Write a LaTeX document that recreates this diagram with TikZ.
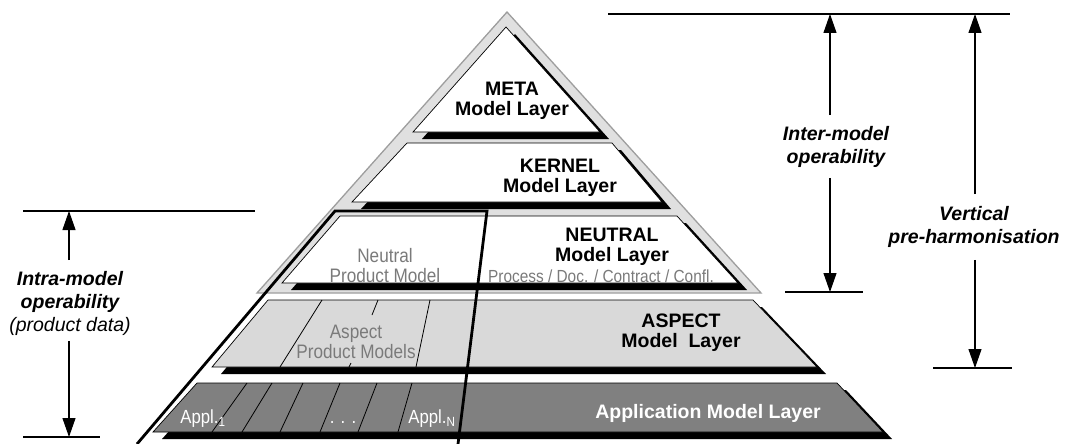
\documentclass[tikz,border=0pt]{standalone}
\usepackage{fontspec}
\setmainfont{Liberation Sans}
\newfontfamily\narrowsf[FakeStretch=0.88]{Liberation Sans}
\usetikzlibrary{arrows.meta}

\begin{document}
\begin{tikzpicture}[
        x = 1pt, y = -1pt,
        > = {Triangle[width=13pt, length=19pt]},
        line width = 0.8pt,
        pyramid/.style = {fill = black!12, draw = black!38, line width = 1.3pt},
        layer/.style = {draw = black, line width = 0.7pt},
        layershadow/.style = {fill = black, shift = {(9,7)}},
        divider/.style = {draw = black, line width = 0.8pt},
        bracket/.style = {draw = black, line width = 2.8pt, line join = miter},
        gauge/.style = {draw = black, line width = 1.1pt},
        title/.style = {align = center, inner sep = 0pt, font = \bfseries\fontsize{19.5}{20}\selectfont},
        sublabel/.style = {align = center, inner sep = 0pt, text = black!52, font = \narrowsf\fontsize{19.5}{20}\selectfont},
        applabel/.style = {anchor = base west, inner sep = 0pt, text = white, font = \narrowsf\fontsize{19}{20}\selectfont},
        gaugetext/.style = {align = center, inner xsep = 0pt, inner ysep = 10pt, font = \bfseries\itshape\fontsize{19.5}{23}\selectfont}
    ]

        \useasboundingbox (0,0) rectangle (1065,444);

        % pyramid body
        \draw[pyramid] (507,12) -- (761,293) -- (257,293) -- cycle;

        \fill[layershadow] (506,27) -- (600,132) -- (413,132) -- cycle;
        \draw[layer, fill=white] (506,27) -- (600,132) -- (413,132) -- cycle;

        \fill[layershadow] (407,143) -- (612,143) -- (662,202) -- (352,202) -- cycle;
        \draw[layer, fill=white] (407,143) -- (612,143) -- (662,202) -- (352,202) -- cycle;

        \fill[layershadow] (340,216) -- (677,216) -- (738,283) -- (282,283) -- cycle;
        \draw[layer, fill=white] (340,216) -- (677,216) -- (738,283) -- (282,283) -- cycle;

        \fill[layershadow] (268,300) -- (753,300) -- (817,367) -- (212,367) -- cycle;
        \draw[layer, fill=black!15] (268,300) -- (753,300) -- (817,367) -- (212,367) -- cycle;

        \fill[layershadow] (197,383) -- (837,383) -- (883,432) -- (153,432) -- cycle;
        \draw[layer, fill=black!50] (197,383) -- (837,383) -- (883,432) -- (153,432) -- cycle;

        % aspect and application columns
        \draw[divider] (322,300) -- (280,367);
        \draw[divider] (378,300) -- (372,315) (351,363) -- (349,367);
        \draw[divider] (430,300) -- (416,367);

        \draw[divider] (247,383) -- (212,432);
        \draw[divider] (272,383) -- (242,432);
        \draw[divider] (303,383) -- (280,432);
        \draw[divider] (340,383) -- (320,432);
        \draw[divider] (377,383) -- (358,432);
        \draw[divider] (412,383) -- (398,432);

        \node[title] (meta) at (512,101) {META\\Model Layer};
        \node[title] (kernel) at (560,177.5) {KERNEL\\Model Layer};
        \node[title] (neutral) at (612,247) {NEUTRAL\\Model Layer};
        \node[title] (aspect) at (681,333) {ASPECT\\Model~ Layer};
        \node[title, anchor=base, text=white] (application) at (708,418) {Application Model Layer};

        \node[sublabel] (neutralprod) at (385,266) {Neutral\\Product Model};
        \node[sublabel, anchor=base, font=\narrowsf\fontsize{17.5}{20}\selectfont] (neutralrest) at (601,282) {Process / Doc. / Contract / Confl.};
        \node[sublabel] (aspectprod) at (356,342) {Aspect\\Product Models};

        \node[applabel] (applfirst) at (180,423) {Appl.\textsubscript{1}};
        \node[applabel, anchor=base] (appldots) at (343,423) {. . .};
        \node[applabel] (appllast) at (408,423) {Appl.\textsubscript{N}};

        % product data bracket
        \coordinate (brackettl) at (335,211);
        \coordinate (brackettr) at (487,211);
        \coordinate (bracketbl) at (137,444);
        \coordinate (bracketbr) at (458,444);
        \draw[bracket] (bracketbl) -- (brackettl) -- (brackettr) -- (bracketbr);

        % gauges
        \coordinate (gaugetopl) at (608,14);
        \coordinate (gaugetopr) at (1010,14);
        \coordinate (intertop) at (830,14);
        \coordinate (interbot) at (830,292);
        \coordinate (interbotl) at (785,292);
        \coordinate (interbotr) at (863,292);
        \coordinate (verttop) at (975,14);
        \coordinate (vertbot) at (975,368);
        \coordinate (vertbotl) at (933,368);
        \coordinate (vertbotr) at (1012,368);
        \coordinate (intratop) at (69,211);
        \coordinate (intratopl) at (23,211);
        \coordinate (intratopr) at (255,211);
        \coordinate (intrabot) at (69,437);
        \coordinate (intrabotl) at (23,437);
        \coordinate (intrabotr) at (100,437);

        \draw[gauge] (gaugetopl) -- (gaugetopr);
        \draw[gauge] (interbotl) -- (interbotr);
        \draw[gauge] (vertbotl) -- (vertbotr);
        \draw[gauge] (intratopl) -- (intratopr);
        \draw[gauge] (intrabotl) -- (intrabotr);

        \node[gaugetext, inner ysep=10.5pt] (inter) at (836,146.5) {Inter-model\\operability};
        \node[gaugetext, inner ysep=12pt] (vertical) at (974,227) {Vertical\\pre-harmonisation};
        \node[gaugetext, inner ysep=5pt] (intra) at (70,303.5) {Intra-model\\operability\\{\mdseries(product data)}};

        \draw[->, gauge] (inter.north -| intertop) -- (intertop);
        \draw[->, gauge] (inter.south -| interbot) -- (interbot);
        \draw[->, gauge] (vertical.north -| verttop) -- (verttop);
        \draw[->, gauge] (vertical.south -| vertbot) -- (vertbot);
        \draw[->, gauge, shorten <= 6pt] (intra.north -| intratop) -- (intratop);
        \draw[->, gauge] (intra.south -| intrabot) -- (intrabot);

    \end{tikzpicture}
\end{document}
